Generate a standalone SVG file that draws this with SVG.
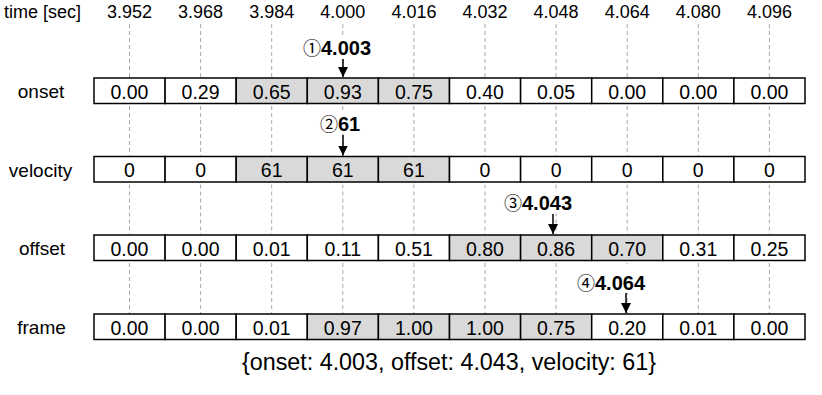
<svg xmlns="http://www.w3.org/2000/svg" width="822" height="395" viewBox="0 0 822 395">
<defs>
<style>
text{font-family:"Liberation Sans",Arial,"DejaVu Sans",sans-serif;font-size:19.5px;fill:#000}
.t{text-anchor:middle;font-size:18px}
.tl{font-size:18px}
.rl{text-anchor:middle;font-size:19px}
.c{fill:#fff;stroke:#000;stroke-width:1.5}
.s{fill:#d9d9d9;stroke:#000;stroke-width:1.5}
.v{text-anchor:middle}
.d{stroke:#aaa;stroke-width:1;stroke-dasharray:4 3;fill:none}
.lb{font-weight:bold;font-size:20px}
.cd{font-weight:normal;font-family:"Noto Sans CJK JP","Noto Sans CJK SC",sans-serif;font-size:18px}
.ar{stroke:#000;stroke-width:1.5;fill:none}
.bg{fill:#fff}
.res{text-anchor:middle;font-size:23.3px}
</style>
<marker id="ah" markerWidth="10" markerHeight="10" refX="10" refY="5" orient="auto" markerUnits="userSpaceOnUse">
<path d="M0,0 L10,5 L0,10 Z" fill="#000"/>
</marker>
</defs>
<rect width="822" height="395" fill="#fff"/>

<g id="time-axis">
<text class="tl" x="4" y="18">time [sec]</text>
<text class="t" x="129.5" y="18">3.952</text>
<text class="t" x="200.6" y="18">3.968</text>
<text class="t" x="271.7" y="18">3.984</text>
<text class="t" x="342.8" y="18">4.000</text>
<text class="t" x="413.9" y="18">4.016</text>
<text class="t" x="485" y="18">4.032</text>
<text class="t" x="556.1" y="18">4.048</text>
<text class="t" x="627.2" y="18">4.064</text>
<text class="t" x="698.3" y="18">4.080</text>
<text class="t" x="769.4" y="18">4.096</text>
</g>

<g id="connectors">
<g id="gridlines">
<path class="d" d="M129.5,24V78M200.6,24V78M271.7,24V78M342.8,24V78M413.9,24V78M485,24V78M556.1,24V78M627.2,24V78M698.3,24V78M769.4,24V78"/>
<path class="d" d="M129.5,106V156.5M200.6,106V156.5M271.7,106V156.5M342.8,106V156.5M413.9,106V156.5M485,106V156.5M556.1,106V156.5M627.2,106V156.5M698.3,106V156.5M769.4,106V156.5"/>
<path class="d" d="M129.5,184.5V235M200.6,184.5V235M271.7,184.5V235M342.8,184.5V235M413.9,184.5V235M485,184.5V235M556.1,184.5V235M627.2,184.5V235M698.3,184.5V235M769.4,184.5V235"/>
<path class="d" d="M129.5,263V314M200.6,263V314M271.7,263V314M342.8,263V314M413.9,263V314M485,263V314M556.1,263V314M627.2,263V314M698.3,263V314M769.4,263V314"/>
</g>
<g id="markers-bg">
<rect class="bg" x="302" y="37" width="76" height="21"/>
<rect class="bg" x="318" y="113" width="46" height="21"/>
<rect class="bg" x="502" y="192" width="76" height="21"/>
<rect class="bg" x="575" y="264" width="78" height="29"/>
</g>
<path class="ar" d="M343,59V77" marker-end="url(#ah)"/>
<path class="ar" d="M343,135V155.5" marker-end="url(#ah)"/>
<path class="ar" d="M553,214V234" marker-end="url(#ah)"/>
<path class="ar" d="M626,293V313" marker-end="url(#ah)"/>
</g>

<g id="onset">
<text class="rl" x="41" y="98">onset</text>
<rect class="c" x="94" y="78" width="71.1" height="25.5"/>
<rect class="c" x="165.1" y="78" width="71.1" height="25.5"/>
<rect class="s" x="236.2" y="78" width="71.1" height="25.5"/>
<rect class="s" x="307.3" y="78" width="71.1" height="25.5"/>
<rect class="s" x="378.4" y="78" width="71.1" height="25.5"/>
<rect class="c" x="449.5" y="78" width="71.1" height="25.5"/>
<rect class="c" x="520.6" y="78" width="71.1" height="25.5"/>
<rect class="c" x="591.7" y="78" width="71.1" height="25.5"/>
<rect class="c" x="662.8" y="78" width="71.1" height="25.5"/>
<rect class="c" x="733.9" y="78" width="71.1" height="25.5"/>
<text class="v" x="129.5" y="98.5">0.00</text>
<text class="v" x="200.6" y="98.5">0.29</text>
<text class="v" x="271.7" y="98.5">0.65</text>
<text class="v" x="342.8" y="98.5">0.93</text>
<text class="v" x="413.9" y="98.5">0.75</text>
<text class="v" x="485" y="98.5">0.40</text>
<text class="v" x="556.1" y="98.5">0.05</text>
<text class="v" x="627.2" y="98.5">0.00</text>
<text class="v" x="698.3" y="98.5">0.00</text>
<text class="v" x="769.4" y="98.5">0.00</text>
</g>

<g id="velocity">
<text class="rl" x="40.5" y="176.5">velocity</text>
<rect class="c" x="94" y="156.5" width="71.1" height="25.5"/>
<rect class="c" x="165.1" y="156.5" width="71.1" height="25.5"/>
<rect class="s" x="236.2" y="156.5" width="71.1" height="25.5"/>
<rect class="s" x="307.3" y="156.5" width="71.1" height="25.5"/>
<rect class="s" x="378.4" y="156.5" width="71.1" height="25.5"/>
<rect class="c" x="449.5" y="156.5" width="71.1" height="25.5"/>
<rect class="c" x="520.6" y="156.5" width="71.1" height="25.5"/>
<rect class="c" x="591.7" y="156.5" width="71.1" height="25.5"/>
<rect class="c" x="662.8" y="156.5" width="71.1" height="25.5"/>
<rect class="c" x="733.9" y="156.5" width="71.1" height="25.5"/>
<text class="v" x="129.5" y="177">0</text>
<text class="v" x="200.6" y="177">0</text>
<text class="v" x="271.7" y="177">61</text>
<text class="v" x="342.8" y="177">61</text>
<text class="v" x="413.9" y="177">61</text>
<text class="v" x="485" y="177">0</text>
<text class="v" x="556.1" y="177">0</text>
<text class="v" x="627.2" y="177">0</text>
<text class="v" x="698.3" y="177">0</text>
<text class="v" x="769.4" y="177">0</text>
</g>

<g id="offset">
<text class="rl" x="42" y="255">offset</text>
<rect class="c" x="94" y="235" width="71.1" height="25.5"/>
<rect class="c" x="165.1" y="235" width="71.1" height="25.5"/>
<rect class="c" x="236.2" y="235" width="71.1" height="25.5"/>
<rect class="c" x="307.3" y="235" width="71.1" height="25.5"/>
<rect class="c" x="378.4" y="235" width="71.1" height="25.5"/>
<rect class="s" x="449.5" y="235" width="71.1" height="25.5"/>
<rect class="s" x="520.6" y="235" width="71.1" height="25.5"/>
<rect class="s" x="591.7" y="235" width="71.1" height="25.5"/>
<rect class="c" x="662.8" y="235" width="71.1" height="25.5"/>
<rect class="c" x="733.9" y="235" width="71.1" height="25.5"/>
<text class="v" x="129.5" y="255.5">0.00</text>
<text class="v" x="200.6" y="255.5">0.00</text>
<text class="v" x="271.7" y="255.5">0.01</text>
<text class="v" x="342.8" y="255.5">0.11</text>
<text class="v" x="413.9" y="255.5">0.51</text>
<text class="v" x="485" y="255.5">0.80</text>
<text class="v" x="556.1" y="255.5">0.86</text>
<text class="v" x="627.2" y="255.5">0.70</text>
<text class="v" x="698.3" y="255.5">0.31</text>
<text class="v" x="769.4" y="255.5">0.25</text>
</g>

<g id="frame">
<text class="rl" x="41.5" y="334">frame</text>
<rect class="c" x="94" y="314" width="71.1" height="25.5"/>
<rect class="c" x="165.1" y="314" width="71.1" height="25.5"/>
<rect class="c" x="236.2" y="314" width="71.1" height="25.5"/>
<rect class="s" x="307.3" y="314" width="71.1" height="25.5"/>
<rect class="s" x="378.4" y="314" width="71.1" height="25.5"/>
<rect class="s" x="449.5" y="314" width="71.1" height="25.5"/>
<rect class="s" x="520.6" y="314" width="71.1" height="25.5"/>
<rect class="c" x="591.7" y="314" width="71.1" height="25.5"/>
<rect class="c" x="662.8" y="314" width="71.1" height="25.5"/>
<rect class="c" x="733.9" y="314" width="71.1" height="25.5"/>
<text class="v" x="129.5" y="334.5">0.00</text>
<text class="v" x="200.6" y="334.5">0.00</text>
<text class="v" x="271.7" y="334.5">0.01</text>
<text class="v" x="342.8" y="334.5">0.97</text>
<text class="v" x="413.9" y="334.5">1.00</text>
<text class="v" x="485" y="334.5">1.00</text>
<text class="v" x="556.1" y="334.5">0.75</text>
<text class="v" x="627.2" y="334.5">0.20</text>
<text class="v" x="698.3" y="334.5">0.01</text>
<text class="v" x="769.4" y="334.5">0.00</text>
</g>

<g id="marker-1"><text class="lb" x="303" y="55"><tspan class="cd">①</tspan>4.003</text></g>
<g id="marker-2"><text class="lb" x="320" y="131"><tspan class="cd">②</tspan>61</text></g>
<g id="marker-3"><text class="lb" x="504" y="210"><tspan class="cd">③</tspan>4.043</text></g>
<g id="marker-4"><text class="lb" x="577" y="290"><tspan class="cd">④</tspan>4.064</text></g>

<g id="result">
<text class="res" x="449" y="370">{onset: 4.003, offset: 4.043, velocity: 61}</text>
</g>
</svg>
